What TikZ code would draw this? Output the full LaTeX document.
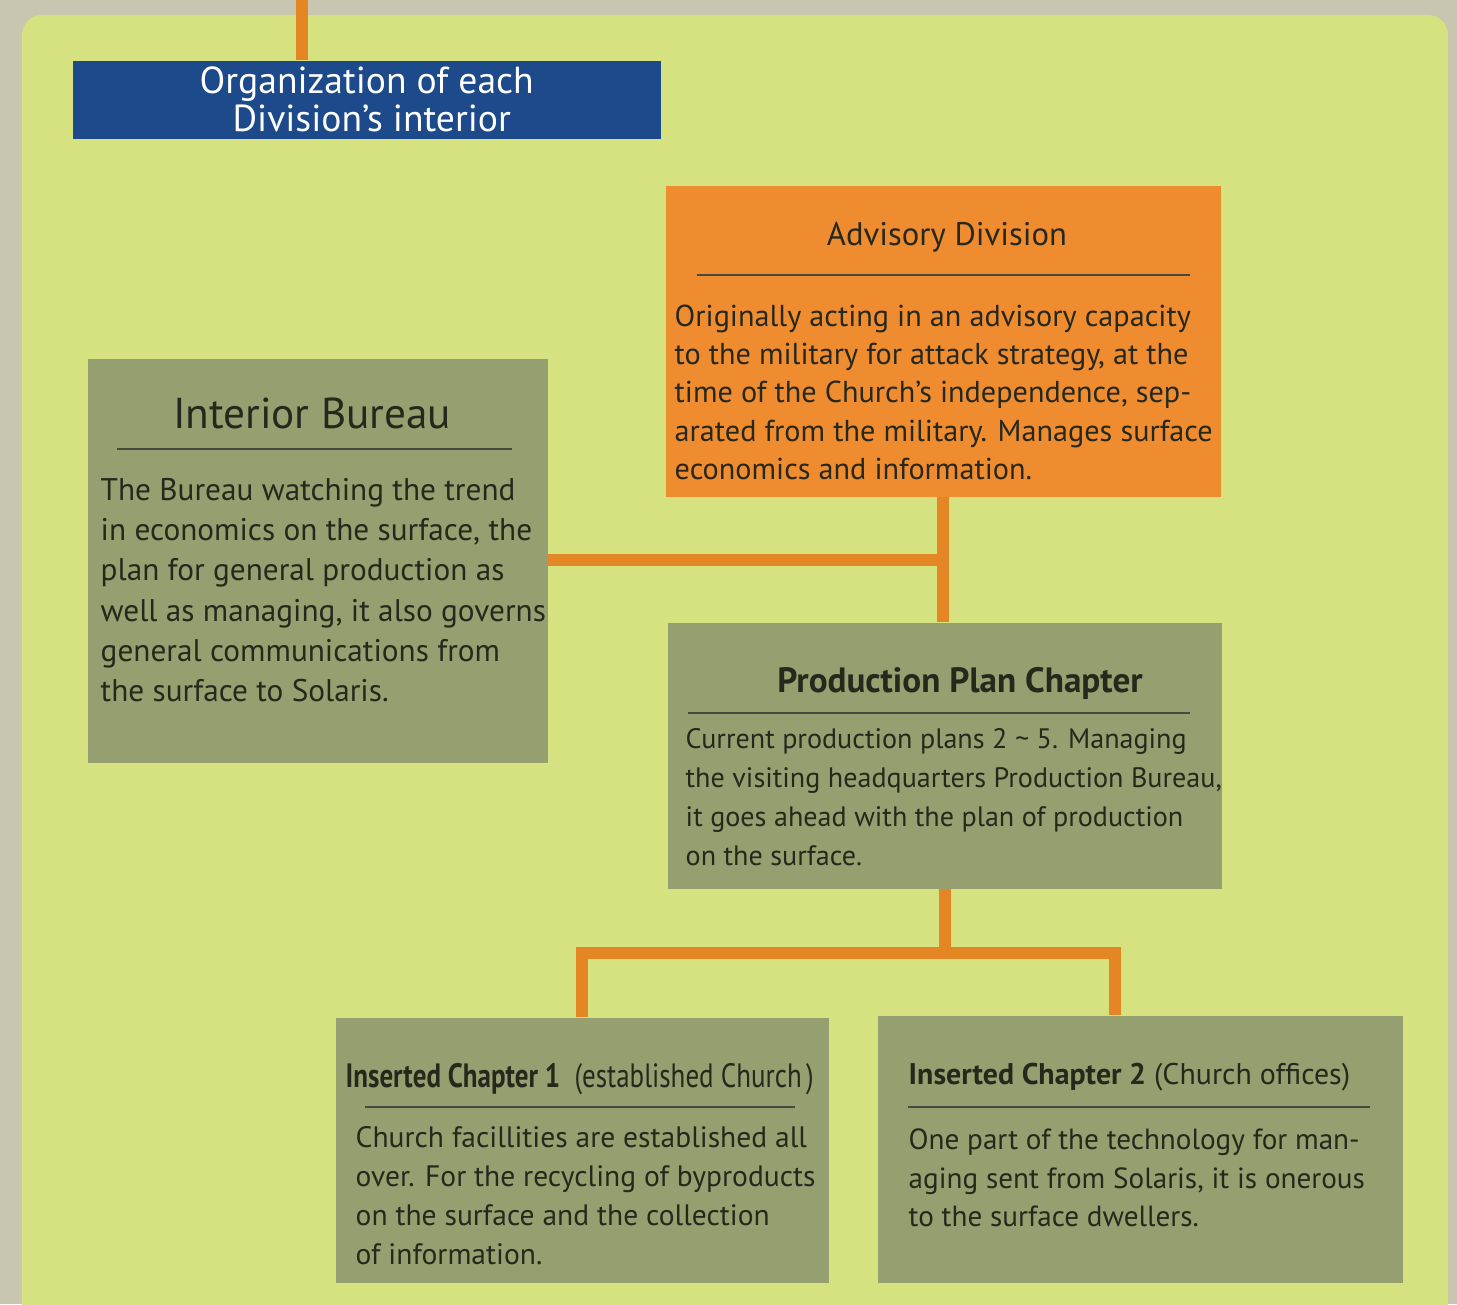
\documentclass[tikz,border=0pt]{standalone}
\usepackage{fontspec}
\setmainfont{PT Sans}
\definecolor{outergray}{RGB}{200,197,176}
\definecolor{panelgreen}{RGB}{214,226,128}
\definecolor{boxgreen}{RGB}{149,159,112}
\definecolor{advorange}{RGB}{240,140,48}
\definecolor{linkorange}{RGB}{228,134,36}
\definecolor{navyblue}{RGB}{28,74,138}
\definecolor{inkdark}{RGB}{38,40,28}
\begin{document}
\begin{tikzpicture}[x=0.1mm,y=-0.1mm,
  box/.style={fill=boxgreen, anchor=north west, inner sep=0pt},
  link/.style={draw=linkorange, line width=1.2mm},
  headline/.style={draw=inkdark!85, line width=0.6pt},
  bodytext/.style={anchor=north west, inner sep=0pt, align=left, text=inkdark,
    font=\fontsize{8}{11.1}\selectfont},
  titletext/.style={anchor=base, inner sep=0pt, text=inkdark}]
\useasboundingbox (0,0) rectangle (1457,1304);
% background
\fill[outergray] (0,0) rectangle (1457,1304);
\fill[panelgreen, rounded corners=2mm] (22,15) rectangle (1448,1340);

% boxes
\node[fill=navyblue, anchor=north west, inner sep=0pt, minimum width=58.8mm, minimum height=7.8mm,
  text=white, align=center, font=\fontsize{10.7}{10.8}\selectfont] (orgtitle) at (72,60)
  {Organization of each\\ \hspace{1mm}Division's interior};
\node[box, fill=advorange, minimum width=55.5mm, minimum height=31.1mm] (advisory) at (665,185) {};
\node[box, minimum width=46mm, minimum height=40.4mm] (bureau) at (87,358) {};
\node[box, minimum width=55.4mm, minimum height=26.6mm] (production) at (667,622) {};
\node[box, minimum width=49.3mm, minimum height=26.5mm] (insert1) at (335,1017) {};
\node[box, minimum width=52.5mm, minimum height=26.7mm] (insert2) at (877,1015) {};

% connectors
\coordinate (topend) at (302,0);
\draw[link] (topend) -- (topend |- orgtitle.north);
\draw[link] (advisory.south) -- (advisory.south |- production.north);
\draw[link] (bureau.east |- 0,560) -- (advisory.south |- 0,560);
\draw[link] (production.south) -- ++(0,64) coordinate (fork);
\coordinate (drop2) at (1115,1015);
\draw[link] (insert1.north) |- (fork) -| (drop2);

% Advisory Division
\node[titletext, font=\fontsize{9.3}{11}\selectfont] (advhead) at (947,246) {Advisory Division};
\draw[headline] (697,275) -- (1190,275);
\node[bodytext, font=\fontsize{8.6}{10.9}\selectfont] (advbody) at (674,304) {Originally acting in an advisory capacity\\
to the military for attack strategy, at the\\
time of the Church's independence, sep-\\
arated from the military. Manages surface\\
economics and information.};

% Interior Bureau
\node[titletext, font=\fontsize{12.3}{14}\selectfont] (burhead) at (312,428) {Interior Bureau};
\draw[headline] (117,449) -- (512,449);
\node[bodytext, font=\fontsize{8.9}{11.4}\selectfont] (burbody) at (100,478) {The Bureau watching the trend\\
in economics on the surface, the\\
plan for general production as\\
well as managing, it also governs\\
general communications from\\
the surface to Solaris.};

% Production Plan Chapter
\node[titletext, font=\fontsize{10}{11}\selectfont\bfseries] (prodhead) at (960,692) {Production Plan Chapter};
\draw[headline] (688,713) -- (1190,713);
\node[bodytext] (prodbody) at (685,728) {Current production plans 2 \textasciitilde{} 5. Managing\\
the visiting headquarters Production Bureau,\\
it goes ahead with the plan of production\\
on the surface.};

% Inserted Chapter 1
\node[titletext, anchor=base west, font=\fontsize{9.6}{11}\selectfont] (ins1head) at (345,1087)
  {\scalebox{0.8}[1]{\textbf{Inserted Chapter 1}\ \ (established Church\,)}};
\draw[headline] (365,1107) -- (795,1107);
\node[bodytext, font=\fontsize{8.4}{11.1}\selectfont] (ins1body) at (355,1126) {Church facillities are established all\\
over. For the recycling of byproducts\\
on the surface and the collection\\
of information.};

% Inserted Chapter 2
\node[titletext, anchor=base west, font=\fontsize{8.5}{11}\selectfont] (ins2head) at (908,1084)
  {\textbf{Inserted Chapter 2} (Church offices)};
\draw[headline] (908,1107) -- (1370,1107);
\node[bodytext, font=\fontsize{8.3}{11}\selectfont] (ins2body) at (908,1128) {One part of the technology for man-\\
aging sent from Solaris, it is onerous\\
to the surface dwellers.};
\end{tikzpicture}
\end{document}
